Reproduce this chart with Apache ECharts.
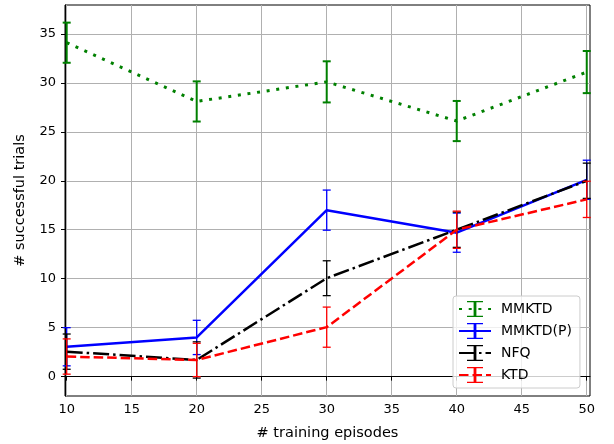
<!DOCTYPE html>
<html>
<head>
<meta charset="utf-8">
<script src="https://cdn.jsdelivr.net/npm/echarts@6/dist/echarts.min.js"></script>
<style>
  html, body { margin: 0; padding: 0; background: #fff; }
  #chart { width: 614px; height: 444px; }
</style>
</head>
<body>
<div id="chart"></div>
<script>
const episodes = [10, 20, 30, 40, 50];
const xTicks = [10, 15, 20, 25, 30, 35, 40, 45, 50];
const yTicks = [0, 5, 10, 15, 20, 25, 30, 35];

const mmktd = [34.1, 28.1, 30.1, 26.1, 31.1];
const mmktdErr = [2.05, 2.05, 2.1, 2.05, 2.15];
const mmktdP = [3.05, 4.0, 17.0, 14.7, 20.1];
const mmktdPErr = [1.95, 1.75, 2.05, 2.0, 2.0];
const nfq = [2.55, 1.7, 10.05, 15.0, 20.0];
const nfqErr = [1.8, 1.85, 1.78, 1.8, 1.8];
const ktd = [2.05, 1.7, 5.05, 15.0, 18.1];
const ktdErr = [1.8, 1.7, 2.05, 1.9, 1.85];

const ibeam = "path://M0,0H8V1.2H4.7V15.8H8V17H0V15.8H3.3V1.2H0Z";

function lineSeries(name, values, color, width, type, z) {
  return {
    name: name,
    type: "line",
    data: episodes.map((x, i) => [x, values[i]]),
    showSymbol: false,
    symbol: ibeam,
    symbolKeepAspect: true,
    itemStyle: { color: color },
    lineStyle: { color: color, width: width, type: type, cap: "butt" },
    z: z,
    animation: false,
  };
}

function errorSeries(name, values, errs, color, width, z) {
  return {
    name: name + " err",
    type: "custom",
    data: episodes.map((x, i) => [x, values[i] - errs[i], values[i] + errs[i]]),
    renderItem: function (params, api) {
      const lo = api.coord([api.value(0), api.value(1)]);
      const hi = api.coord([api.value(0), api.value(2)]);
      const cap = 4;
      const style = { stroke: color, lineWidth: width, fill: null };
      return {
        type: "group",
        children: [
          { type: "line", shape: { x1: lo[0], y1: lo[1], x2: hi[0], y2: hi[1] }, style: style },
          { type: "line", shape: { x1: lo[0] - cap, y1: lo[1], x2: lo[0] + cap, y2: lo[1] }, style: style },
          { type: "line", shape: { x1: hi[0] - cap, y1: hi[1], x2: hi[0] + cap, y2: hi[1] }, style: style },
        ],
      };
    },
    z: z,
    silent: true,
    animation: false,
  };
}

const chart = echarts.init(document.getElementById("chart"));
const font = "DejaVu Sans";

const option = {
  backgroundColor: "#fff",
  animation: false,
  grid: {
    left: 65, right: 24, top: 5, bottom: 48,
    outerBoundsMode: "none",
    show: true, borderColor: "#000", borderWidth: 1,
  },
  legend: {
    data: ["MMKTD", "MMKTD(P)", "NFQ", "KTD"],
    orient: "vertical",
    left: 453,
    top: 296,
    itemWidth: 32,
    itemHeight: 20,
    itemGap: 6,
    padding: [5, 8, 5, 5],
    backgroundColor: "rgba(255,255,255,0.8)",
    borderColor: "#cccccc",
    borderWidth: 1,
    borderRadius: 3,
    textStyle: { fontFamily: font, fontSize: 14, color: "#000", padding: [0, 0, 0, 5] },
  },
  xAxis: {
    type: "value",
    min: 9.87,
    max: 50.25,
    name: "# training episodes",
    nameLocation: "middle",
    nameGap: 30,
    nameTextStyle: { fontFamily: font, fontSize: 14.5, color: "#000" },
    axisLine: { show: true, lineStyle: { color: "#000", width: 1 } },
    axisTick: { show: true, inside: false, length: 4, lineStyle: { color: "#000" }, customValues: xTicks },
    axisLabel: { fontFamily: font, fontSize: 13, color: "#000", margin: 7, customValues: xTicks },
    splitLine: { show: true, lineStyle: { color: "#b0b0b0", width: 1 } },
  },
  yAxis: {
    type: "value",
    min: -1.98,
    max: 37.95,
    name: "# successful trials",
    nameLocation: "middle",
    nameGap: 37,
    nameTextStyle: { fontFamily: font, fontSize: 14.5, color: "#000" },
    axisLine: { show: true, lineStyle: { color: "#000", width: 1 } },
    axisTick: { show: true, inside: false, length: 4, lineStyle: { color: "#000" }, customValues: yTicks },
    axisLabel: { fontFamily: font, fontSize: 13, color: "#000", margin: 9, customValues: yTicks },
    splitLine: { show: true, lineStyle: { color: "#b0b0b0", width: 1 } },
  },
  series: [
    errorSeries("MMKTD", mmktd, mmktdErr, "#008000", 2, 2),
    lineSeries("MMKTD", mmktd, "#008000", 3, [3, 6.7], 3),
    errorSeries("MMKTD(P)", mmktdP, mmktdPErr, "#0000ff", 1.3, 4),
    lineSeries("MMKTD(P)", mmktdP, "#0000ff", 2.5, "solid", 5),
    errorSeries("NFQ", nfq, nfqErr, "#000000", 1.3, 6),
    lineSeries("NFQ", nfq, "#000000", 2.5, [16, 4, 2.5, 4], 7),
    errorSeries("KTD", ktd, ktdErr, "#ff0000", 1.3, 8),
    lineSeries("KTD", ktd, "#ff0000", 2.5, [9.5, 4], 9),
  ],
};

chart.setOption(option);
window.addEventListener("resize", () => chart.resize());
</script>
</body>
</html>
